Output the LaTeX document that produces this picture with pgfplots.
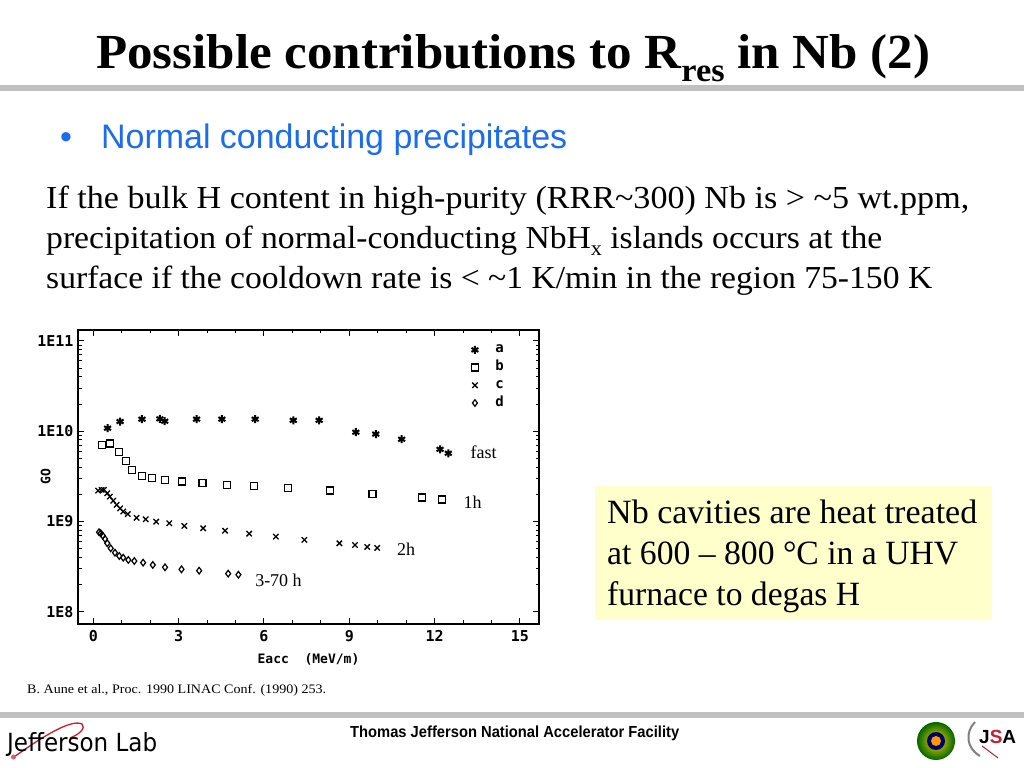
\documentclass[border=0pt]{standalone}
\usepackage{fontspec}
\usepackage{graphicx}
\usepackage{pgfplots}
\pgfplotsset{compat=1.18}
\newfontfamily\timesf{Liberation Serif}
\newfontfamily\arialf{Liberation Sans}
\newfontfamily\plotf{DejaVu Sans Mono}
\newfontfamily\dejaf{DejaVu Sans}
\definecolor{rulegray}{RGB}{192,192,192}
\definecolor{bulletblue}{RGB}{28,108,238}
\definecolor{boxyellow}{RGB}{255,255,204}
\definecolor{jlabred}{RGB}{200,30,50}
\newcommand\fs[1]{\fontsize{#1bp}{#1bp}\selectfont}

\pgfplotstableread{
x y
0.50 1.08e10
0.94 1.28e10
1.71 1.36e10
2.34 1.37e10
2.51 1.29e10
3.63 1.36e10
4.52 1.36e10
5.69 1.36e10
7.03 1.32e10
7.94 1.32e10
9.23 9.75e9
9.93 9.3e9
10.84 8.15e9
12.19 6.3e9
12.48 5.7e9
}\seriesa
\pgfplotstableread{
x y
0.31 7.05e9
0.58 7.3e9
0.90 5.9e9
1.14 4.69e9
1.35 3.72e9
1.72 3.2e9
2.06 3.01e9
2.52 2.86e9
3.12 2.77e9
3.84 2.66e9
4.69 2.56e9
5.64 2.46e9
6.85 2.37e9
8.32 2.2e9
9.81 2.01e9
11.56 1.84e9
12.26 1.76e9
}\seriesb
\pgfplotstableread{
x y
0.17 2.2e9
0.29 2.24e9
0.37 2.24e9
0.49 2.06e9
0.58 1.89e9
0.70 1.70e9
0.82 1.53e9
0.94 1.40e9
1.05 1.29e9
1.21 1.21e9
1.52 1.10e9
1.84 1.06e9
2.21 9.98e8
2.67 9.58e8
3.20 8.94e8
3.86 8.43e8
4.63 7.93e8
5.48 7.35e8
6.42 6.81e8
7.42 6.26e8
8.65 5.75e8
9.20 5.51e8
9.63 5.24e8
9.98 5.11e8
}\seriesc
\pgfplotstableread{
x y
0.20 7.62e8
0.26 7.42e8
0.33 6.98e8
0.41 6.42e8
0.49 5.75e8
0.61 5.06e8
0.76 4.52e8
0.91 4.16e8
1.05 3.98e8
1.23 3.76e8
1.44 3.66e8
1.75 3.51e8
2.09 3.31e8
2.52 3.12e8
3.10 2.96e8
3.72 2.86e8
4.74 2.65e8
5.10 2.58e8
}\seriesd

\begin{document}
\begin{tikzpicture}[x=1bp,y=1bp]
\useasboundingbox (0,0) rectangle (1024,768);
\fill[white] (0,0) rectangle (1024,768);
% title
\node[anchor=base west, inner sep=0] at (96,768-68.5)
  {\resizebox{834bp}{\height}{\timesf\bfseries\fs{49}Possible contributions to R\raisebox{-0.27em}{\fs{33}res} in Nb (2)}};
\fill[rulegray] (0,768-85) rectangle (1024,768-91.5);
% bullet
\node[anchor=base west, inner sep=0, text=bulletblue] at (60,768-149) {\arialf\fs{34}\textbullet};
\node[anchor=base west, inner sep=0, text=bulletblue] at (101,768-149)
  {\resizebox{466bp}{\height}{\arialf\fs{34}Normal conducting precipitates}};
% paragraph
\node[anchor=base west, inner sep=0] at (46,768-208.5)
  {\resizebox{923bp}{\height}{\timesf\fs{32}If the bulk H content in high-purity (RRR\textasciitilde300) Nb is > \textasciitilde5 wt.ppm,}};
\node[anchor=base west, inner sep=0] at (46,768-248.5)
  {\resizebox{836bp}{\height}{\timesf\fs{32}precipitation of normal-conducting NbH\raisebox{-0.22em}{\fs{21}x} islands occurs at the}};
\node[anchor=base west, inner sep=0] at (46,768-288.5)
  {\resizebox{886bp}{\height}{\timesf\fs{32}surface if the cooldown rate is < \textasciitilde1 K/min in the region 75-150 K}};
% yellow box
\fill[boxyellow] (595,768-486) rectangle (992,768-620);
\node[anchor=base west, inner sep=0] at (607,768-524)
  {\resizebox{370bp}{\height}{\timesf\fs{34}Nb cavities are heat treated}};
\node[anchor=base west, inner sep=0] at (607,768-565)
  {\resizebox{351bp}{\height}{\timesf\fs{34}at 600 – 800 °C in a UHV}};
\node[anchor=base west, inner sep=0] at (607,768-606)
  {\resizebox{253bp}{\height}{\timesf\fs{34}furnace to degas H}};
% citation
\node[anchor=base west, inner sep=0] at (27,768-694)
  {\resizebox{299bp}{\height}{\timesf\fs{13}B. Aune et al., Proc. 1990 LINAC Conf. (1990) 253.}};
% footer
\fill[rulegray] (0,768-712) rectangle (1024,768-718.5);
\node[anchor=base west, inner sep=0] at (350,768-737.5)
  {\resizebox{329bp}{\height}{\arialf\bfseries\fs{16}Thomas Jefferson National Accelerator Facility}};
\draw[jlabred, line width=1.3bp] (14,768-757) .. controls (35,768-742) and (70,768-718) .. (82,768-724) .. controls (86,768-728) and (80,768-734) .. (70,768-738);
\fill[jlabred!70] (13.5,768-757) circle (2.5bp);
\node[anchor=base west, inner sep=0] at (7,768-751.5)
  {\resizebox{150bp}{\height}{\dejaf\fs{25}Jefferson Lab}};
\shade[inner color=yellow!70!orange, outer color=green!40!black] (936,768-741) circle (19bp);
\fill[blue!40!black] (936,768-741) circle (9bp);
\fill[orange!80!yellow] (936,768-741) circle (5bp);
\draw[gray, line width=2bp] (975,768-722) .. controls (965,768-732) and (966,768-748) .. (980,768-756);
\draw[jlabred, line width=1bp] (982,768-746) -- (998,768-758);
\node[anchor=base west, inner sep=0] at (979,768-744)
  {\arialf\bfseries\fs{19}J\textcolor{jlabred}{S}A};
% chart
\begin{axis}[
  at={(78bp,144bp)}, anchor=south west,
  scale only axis, width=461bp, height=294bp,
  ymode=log,
  xmin=-0.54, xmax=15.67, ymin=7.35e7, ymax=1.32e11,
  xtick={0,3,6,9,12,15}, xticklabels={0,3,6,9,12,15},
  minor x tick num=2,
  ytick={1e8,1e9,1e10,1e11}, yticklabels={1E8,1E9,1E10,1E11},
  tick align=inside,
  major tick length=6bp, minor tick length=3.5bp,
  every tick/.style={black, line width=1bp},
  axis line style={line width=1.6bp},
  ticklabel style={font=\plotf\bfseries\fs{15}},
  xticklabel style={yshift=-3bp},
  yticklabel style={xshift=-1bp},
  xlabel={Eacc\ \ (MeV/m)},
  ylabel={GO},
  xlabel style={font=\plotf\bfseries\fs{13}, at={(axis description cs:0.5,-0.122)}, anchor=center},
  ylabel style={font=\plotf\bfseries\fs{13}, at={(axis description cs:-0.07,0.5)}, anchor=center, rotate=0},
  legend style={draw=none, fill=none, at={(0.853,0.963)}, anchor=north west,
    font=\plotf\bfseries\fs{14}, row sep=0pt, inner sep=0pt,
    nodes={text height=8bp, text depth=2bp, inner ysep=3.85bp, inner xsep=2bp},
    /tikz/every odd column/.style={column sep=15bp}},
  legend cell align=left,
  legend image code/.code={\draw[mark repeat=2,mark phase=2,#1] plot coordinates {(0bp,0bp) (8bp,0bp) (16bp,0bp)};},
]
\addplot[only marks, mark=asterisk, mark size=4bp, mark options={line width=2bp, black}] table[x=x,y=y]{\seriesa};
\addplot[only marks, mark=square, mark size=3.5bp, mark options={line width=1.3bp, black}] table[x=x,y=y]{\seriesb};
\addplot[only marks, mark=x, mark size=3.8bp, mark options={line width=1.3bp, black}] table[x=x,y=y]{\seriesc};
\addplot[only marks, mark=diamond, mark size=3.3bp, mark options={line width=1.2bp, black}] table[x=x,y=y]{\seriesd};
\legend{a,b,c,d}
\node[font=\timesf\fs{18}] at (axis cs:13.72,5.9e9) {fast};
\node[font=\timesf\fs{18}] at (axis cs:13.34,1.65e9) {1h};
\node[font=\timesf\fs{18}] at (axis cs:11.0,4.9e8) {2h};
\node[font=\timesf\fs{18}] at (axis cs:6.51,2.25e8) {3-70 h};
\end{axis}
\end{tikzpicture}
\end{document}
